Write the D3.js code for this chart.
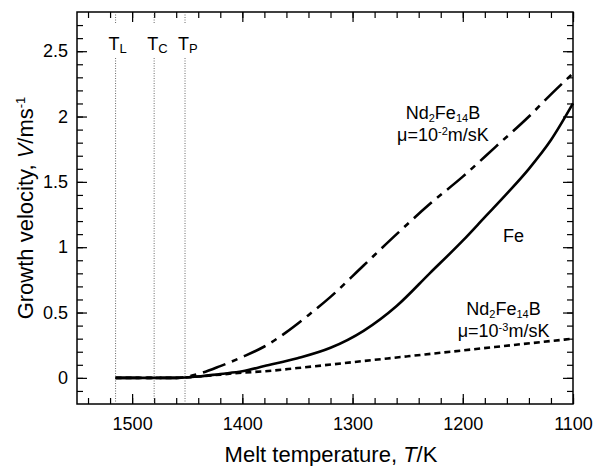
<!DOCTYPE html>
<html>
    <head>
        <title>Growth velocity</title>
        <script src="https://d3js.org/d3.v7.min.js"></script>
        <style>
            body { margin: 0; background: #fff; }
            svg { display: block; font-family: 'Liberation Sans', Arial, Helvetica, sans-serif; }
        </style>
    </head>
    <body>
        <script>
            // melt temperature (K) and growth velocity (m/s)
            const feTemp = [1515, 1460, 1440, 1420, 1400, 1380, 1350, 1320, 1290, 1260, 1230, 1200, 1180, 1160, 1140, 1120, 1100]
            const feVel = [0, 0, 0.01, 0.03, 0.05, 0.09, 0.15, 0.23, 0.36, 0.55, 0.80, 1.05, 1.23, 1.41, 1.60, 1.82, 2.10]

            const ndHighTemp = [1515, 1460, 1440, 1420, 1400, 1380, 1360, 1340, 1320, 1290, 1260, 1230, 1200, 1170, 1140, 1120, 1100]
            const ndHighVel = [0, 0, 0.03, 0.09, 0.16, 0.24, 0.35, 0.48, 0.62, 0.86, 1.10, 1.33, 1.54, 1.77, 2.00, 2.17, 2.33]

            const ndLowTemp = [1515, 1460, 1440, 1420, 1400, 1380, 1350, 1300, 1250, 1200, 1150, 1100]
            const ndLowVel = [0, 0, 0.01, 0.025, 0.04, 0.05, 0.075, 0.12, 0.165, 0.21, 0.255, 0.30]

            // characteristic temperatures: liquidus, T_C, peritectic
            const markNames = ['L', 'C', 'P']
            const markTemps = [1515, 1480, 1452]

            const xMajor = [1500, 1400, 1300, 1200, 1100]
            const xMinor = d3.range(1540, 1099, -20)
            const yMajor = [0, 0.5, 1, 1.5, 2, 2.5]
            const yMinor = d3.range(-0.1, 2.75, 0.1)

            const margin = { top: 12, right: 32, bottom: 62, left: 77 }
            const W = 605, H = 466
            const width = W - margin.left - margin.right
            const height = H - margin.top - margin.bottom

            const svg = d3.select('body').append('svg')
                .attr('width', W).attr('height', H)

            const g = svg.append('g')
                .attr('transform', `translate(${margin.left}, ${margin.top})`)

            const x = d3.scaleLinear().domain([1550, 1100]).range([0, width])
            const y = d3.scaleLinear().domain([-0.2, 2.8]).range([height, 0])

            const fontSize = 18
            const titleSize = 22

            // axes with inward ticks on all four sides
            const addAxis = (axis, transform, labels) => {
                const a = g.append('g').attr('transform', transform).call(axis)
                a.select('.domain').remove()
                a.selectAll('line').attr('stroke', '#000').attr('stroke-width', 1.2)
                a.selectAll('text').attr('font-size', fontSize).attr('fill', '#000')
                    .attr('font-family', 'Liberation Sans, Arial, sans-serif')
                if (!labels) a.selectAll('text').remove()
                return a
            }

            addAxis(d3.axisBottom(x).tickValues(xMajor).tickSize(-10).tickPadding(13).tickFormat(d3.format('d')),
                `translate(0, ${height})`, true)
            addAxis(d3.axisBottom(x).tickValues(xMinor).tickSize(-6), `translate(0, ${height})`, false)
            addAxis(d3.axisTop(x).tickValues(xMajor).tickSize(-10), 'translate(0, 0)', false)
            addAxis(d3.axisTop(x).tickValues(xMinor).tickSize(-6), 'translate(0, 0)', false)

            addAxis(d3.axisLeft(y).tickValues(yMajor).tickSize(-10).tickPadding(9).tickFormat(d => d),
                'translate(0, 0)', true)
            addAxis(d3.axisLeft(y).tickValues(yMinor).tickSize(-6), 'translate(0, 0)', false)
            addAxis(d3.axisRight(y).tickValues(yMajor).tickSize(-10), `translate(${width}, 0)`, false)
            addAxis(d3.axisRight(y).tickValues(yMinor).tickSize(-6), `translate(${width}, 0)`, false)

            g.append('rect')
                .attr('width', width).attr('height', height)
                .attr('fill', 'none').attr('stroke', '#000').attr('stroke-width', 1.5)

            // dotted vertical markers, broken where the labels sit
            markTemps.forEach((t, i) => {
                const xp = x(t)
                ;[[0, 11], [46, height]].forEach(seg => {
                    g.append('line')
                        .attr('x1', xp).attr('x2', xp)
                        .attr('y1', seg[0]).attr('y2', seg[1])
                        .attr('stroke', '#444').attr('stroke-width', 0.8)
                        .attr('stroke-dasharray', '1,1.5')
                })
                const lab = g.append('text')
                    .attr('x', xp - 7).attr('y', 38)
                    .attr('font-size', fontSize)
                lab.append('tspan').text('T')
                lab.append('tspan').attr('font-size', 13).attr('dy', 3).text(markNames[i])
            })

            const line = d3.line()
                .x(d => x(d[0]))
                .y(d => y(d[1]))
                .curve(d3.curveMonotoneX)

            const series = [
                { temp: ndLowTemp, vel: ndLowVel, dash: '6,4' },
                { temp: ndHighTemp, vel: ndHighVel, dash: '24,7,6,7' },
                { temp: feTemp, vel: feVel, dash: null }
            ]

            g.selectAll('.curve')
                .data(series).enter()
                .append('path')
                    .attr('class', 'curve')
                    .attr('d', s => line(s.temp.map((t, i) => [t, s.vel[i]])))
                    .attr('fill', 'none')
                    .attr('stroke', '#000')
                    .attr('stroke-width', 2.6)
                    .attr('stroke-dasharray', s => s.dash)

            // curve annotations
            const note = (cx, cy, exp) => {
                const t1 = g.append('text').attr('x', cx).attr('y', cy)
                    .attr('text-anchor', 'middle').attr('font-size', fontSize)
                t1.append('tspan').text('Nd')
                t1.append('tspan').attr('font-size', 11).attr('dy', 3).text('2')
                t1.append('tspan').attr('dy', -3).text('Fe')
                t1.append('tspan').attr('font-size', 11).attr('dy', 3).text('14')
                t1.append('tspan').attr('dy', -3).text('B')
                const t2 = g.append('text').attr('x', cx).attr('y', cy + 22)
                    .attr('text-anchor', 'middle').attr('font-size', fontSize)
                t2.append('tspan').text('\u03bc=10')
                t2.append('tspan').attr('font-size', 11).attr('dy', -6).text(exp)
                t2.append('tspan').attr('dy', 6).text('m/sK')
            }
            note(x(1218), y(1.98), '-2')
            note(x(1163), y(0.48), '-3')

            g.append('text')
                .attr('x', x(1154)).attr('y', y(1.04))
                .attr('text-anchor', 'middle').attr('font-size', fontSize)
                .text('Fe')

            // axis titles
            const xt = svg.append('text')
                .attr('x', 331).attr('y', 462)
                .attr('text-anchor', 'middle').attr('font-size', titleSize)
            xt.append('tspan').text('Melt temperature, ')
            xt.append('tspan').attr('font-style', 'italic').text('T')
            xt.append('tspan').text('/K')

            const yt = svg.append('text')
                .attr('transform', `translate(33, ${margin.top + height / 2}) rotate(-90)`)
                .attr('text-anchor', 'middle').attr('font-size', titleSize)
            yt.append('tspan').text('Growth velocity, ')
            yt.append('tspan').attr('font-style', 'italic').text('V')
            yt.append('tspan').text('/ms')
            yt.append('tspan').attr('font-size', 13).attr('dy', -8).text('-1')
        </script>
    </body>
</html>
